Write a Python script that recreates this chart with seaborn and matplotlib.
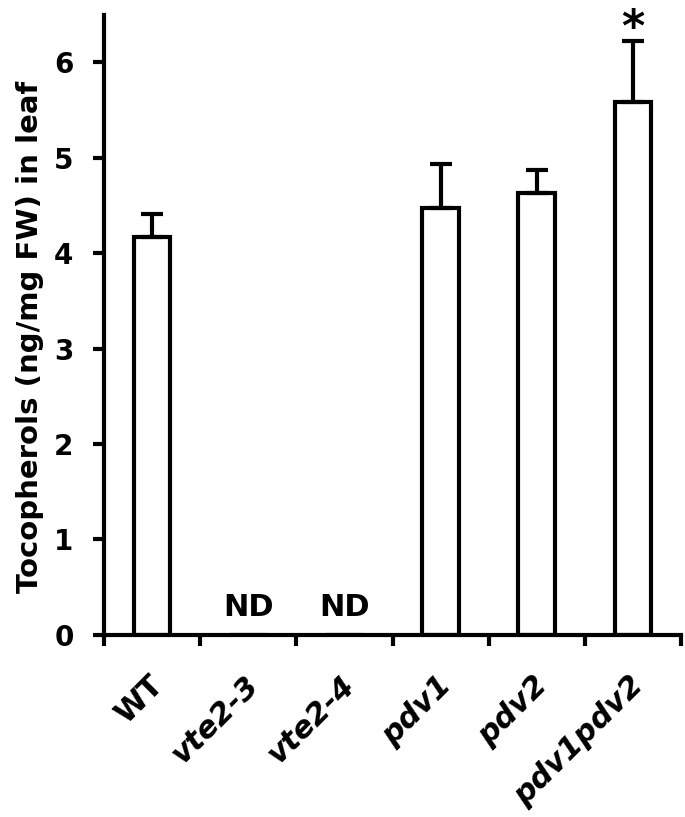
import matplotlib
matplotlib.use("Agg")
import matplotlib.pyplot as plt
import matplotlib.transforms as mtransforms
import numpy as np
import pandas as pd
import seaborn as sns

genotypes = ["WT", "vte2-3", "vte2-4", "pdv1", "pdv2", "pdv1pdv2"]
tocopherols = [4.17, 0.0, 0.0, 4.47, 4.63, 5.59]
errors = [0.24, 0.0, 0.0, 0.46, 0.24, 0.63]
nd_labels = ["", "ND", "ND", "", "", ""]
signif = ["", "", "", "", "", "*"]

sns.set_style("white")
plt.rcParams["font.family"] = ["DejaVu Sans"]
plt.rcParams["font.weight"] = "bold"
for k in ["text.color", "axes.labelcolor", "xtick.color", "ytick.color", "axes.edgecolor"]:
    plt.rcParams[k] = "black"

df = pd.DataFrame({"genotype": genotypes, "value": tocopherols})

fig = plt.figure(figsize=(6.85, 8.17), dpi=100)
ax = fig.add_axes([0.152, 0.223, 0.842, 0.759])

sns.barplot(data=df, x="genotype", y="value", color="white", edgecolor="black",
            linewidth=3, width=0.38, ax=ax, errorbar=None)

x = np.arange(len(genotypes))
err = np.array(errors)
mask = err > 0
ax.errorbar(x[mask], np.array(tocopherols)[mask],
            yerr=[np.zeros(mask.sum()), err[mask]],
            fmt="none", ecolor="black", elinewidth=3, capsize=8, capthick=3)

for i, t in enumerate(nd_labels):
    if t:
        ax.text(i, 0.13, t, ha="center", va="bottom", fontsize=22, fontweight="bold")
for i, t in enumerate(signif):
    if t:
        ax.text(i, tocopherols[i] + errors[i] + 0.0, t, ha="center", va="baseline",
                fontsize=32, fontweight="bold", clip_on=False)

ax.set_ylim(0, 6.5)
ax.set_xlim(-0.5, len(genotypes) - 0.5)
ax.set_yticks(range(0, 7))
ax.tick_params(axis="y", labelsize=20, width=3, length=8, direction="out", left=True, pad=14)
for lab in ax.get_yticklabels():
    lab.set_fontweight("bold")

# category boundary ticks on the x axis
ax.set_xticks(np.arange(-0.5, len(genotypes)), minor=True)
ax.tick_params(axis="x", which="minor", width=3, length=8, direction="out", bottom=True)
ax.tick_params(axis="x", which="major", length=0, pad=33)
ax.set_xticks(x)
ax.set_xticklabels(genotypes, rotation=45, ha="right", va="center",
                   rotation_mode="anchor", fontsize=22)
shift = mtransforms.ScaledTranslation(0.06, 0, fig.dpi_scale_trans)
for i, lab in enumerate(ax.get_xticklabels()):
    lab.set_fontweight("bold")
    if i > 0:
        lab.set_fontstyle("italic")
    lab.set_transform(lab.get_transform() + shift)

ax.set_xlabel("")
ax.set_ylabel("Tocopherols (ng/mg FW) in leaf", fontsize=21, fontweight="bold")
ax.yaxis.set_label_coords(-0.105, 0.48)

sns.despine(ax=ax)
for s in ["left", "bottom"]:
    ax.spines[s].set_linewidth(3)
    ax.spines[s].set_color("black")

fig.savefig("out.png", dpi=100)
